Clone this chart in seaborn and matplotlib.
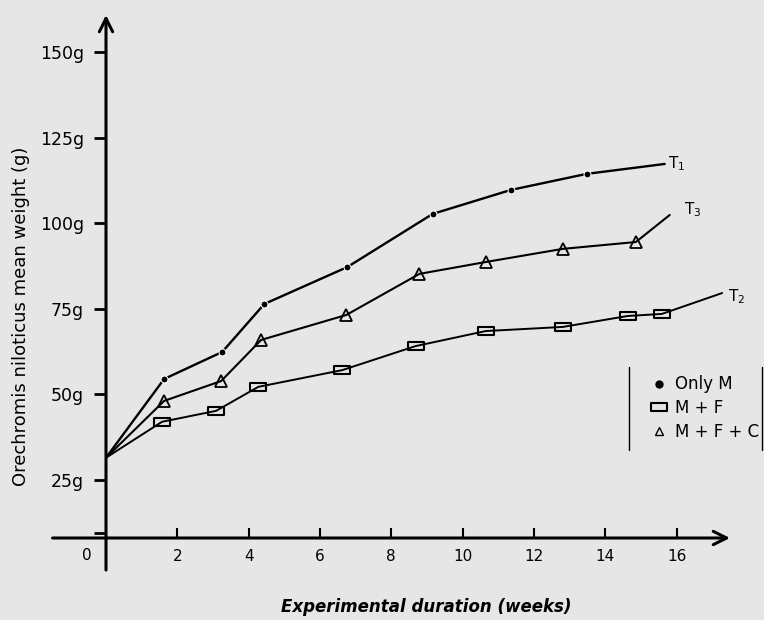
import matplotlib
matplotlib.use("Agg")
import matplotlib.pyplot as plt
import seaborn as sns
import pandas as pd
from matplotlib.lines import Line2D
from matplotlib.path import Path

# Values (weeks, grams)
weeks_only_m = [0, 1.63, 3.26, 4.44, 6.77, 9.16, 11.35, 13.48, 15.67]
weight_only_m = [31.5, 54.5, 62.4, 76.4, 87.2, 102.7, 109.7, 114.4, 117.3]

weeks_mf = [0, 1.57, 3.09, 4.27, 6.63, 8.68, 10.65, 12.81, 14.63, 15.59, 17.28]
weight_mf = [31.5, 42.0, 45.2, 52.2, 57.1, 64.1, 68.5, 69.7, 72.9, 73.5, 79.6]

weeks_mfc = [0, 1.63, 3.23, 4.35, 6.74, 8.79, 10.67, 12.81, 14.86, 15.81]
weight_mfc = [31.5, 48.1, 53.9, 65.9, 73.2, 85.2, 88.7, 92.5, 94.5, 102.4]

y_ticks = [25, 50, 75, 100, 125, 150]
y_tick_labels = ["25g", "50g", "75g", "100g", "125g", "150g"]
x_ticks = [2, 4, 6, 8, 10, 12, 14, 16]

series_names = ["Only M", "M + F", "M + F + C"]
curve_tags = [r"T$_1$", r"T$_2$", r"T$_3$"]

bg = "#e5e6e5"
sns.set_style("white")
plt.rcParams["font.family"] = ["DejaVu Sans"]
plt.rcParams["text.color"] = "black"
plt.rcParams["xtick.color"] = "black"
plt.rcParams["ytick.color"] = "black"

# wide, flat rectangle marker for M + F
rect = Path([(-1, -0.5), (1, -0.5), (1, 0.5), (-1, 0.5), (-1, -0.5)],
            [Path.MOVETO, Path.LINETO, Path.LINETO, Path.LINETO, Path.CLOSEPOLY])

fig = plt.figure(figsize=(7.64, 6.2), dpi=100, facecolor=bg)
ax = fig.add_axes([106 / 764, 82 / 620, 624 / 764, 523 / 620])
ax.set_facecolor(bg)

df_m = pd.DataFrame({"week": weeks_only_m, "weight": weight_only_m})
df_mf = pd.DataFrame({"week": weeks_mf, "weight": weight_mf})
df_mfc = pd.DataFrame({"week": weeks_mfc, "weight": weight_mfc})

sns.lineplot(data=df_m, x="week", y="weight", ax=ax, color="black", lw=1.7,
             marker="o", markersize=5, markevery=list(range(1, len(df_m) - 1)),
             errorbar=None)
sns.lineplot(data=df_mf, x="week", y="weight", ax=ax, color="black", lw=1.4,
             marker=rect, markersize=11, mfc="none", mec="black", mew=1.5,
             markevery=list(range(1, len(df_mf) - 1)), errorbar=None)
sns.lineplot(data=df_mfc, x="week", y="weight", ax=ax, color="black", lw=1.5,
             marker="^", markersize=9, mfc="none", mec="black", mew=1.3,
             markevery=list(range(1, len(df_mfc) - 1)), errorbar=None)

# curve tags at the line ends
ax.text(weeks_only_m[-1] + 0.1, weight_only_m[-1], curve_tags[0], fontsize=11, va="center")
ax.text(weeks_mf[-1] + 0.15, weight_mf[-1] - 1, curve_tags[1], fontsize=11, va="center")
ax.text(weeks_mfc[-1] + 0.4, weight_mfc[-1] + 1.5, curve_tags[2], fontsize=11, va="center")

ax.set_xlim(0, 17.5)
ax.set_ylim(8.06, 160.8)
for s in ax.spines.values():
    s.set_visible(False)

# axes drawn as arrows crossing at the origin
arr = dict(arrowstyle="->", lw=2.2, color="black", mutation_scale=24, shrinkA=0, shrinkB=0)
ax.annotate("", xy=(17.5, 8.06), xytext=(-1.5, 8.06), arrowprops=arr, annotation_clip=False)
ax.annotate("", xy=(0, 160.8), xytext=(0, -1.3), arrowprops=arr, annotation_clip=False)

ax.set_yticks(y_ticks)
ax.set_yticklabels(y_tick_labels)
ax.set_yticks([9.5], minor=True)
ax.tick_params(axis="y", which="both", direction="out", length=9, width=2, pad=7,
               labelsize=12.5, left=True, colors="black")
ax.set_xticks(x_ticks)
ax.tick_params(axis="x", direction="in", length=7, width=1.5, pad=8,
               labelsize=11, bottom=True, colors="black")
ax.set_xlabel("")
ax.set_ylabel("")

ax.annotate("0", xy=(0, 0), xycoords="axes fraction", xytext=(-19, -17),
            textcoords="offset pixels", ha="center", va="center", fontsize=11)

fig.text(426 / 764, 1 - 607 / 620, "Experimental duration (weeks)", ha="center", va="center",
         fontsize=12, fontweight="bold", fontstyle="italic")
fig.text(21 / 764, 1 - 316 / 620, "Orechromis niloticus mean weight (g)", ha="center",
         va="center", rotation=90, fontsize=13)

handles = [
    Line2D([], [], ls="none", marker="o", markersize=5, color="black"),
    Line2D([], [], ls="none", marker=rect, markersize=11, mfc="none", mec="black", mew=1.5),
    Line2D([], [], ls="none", marker="^", markersize=6, mfc="none", mec="black", mew=1),
]
fig.legend(handles, series_names, loc="upper left", bbox_to_anchor=(642 / 764, 1 - 367 / 620),
           frameon=False, handlelength=1, handletextpad=0.5, borderpad=0,
           labelspacing=0.35, fontsize=12)
for xp in (629, 762):
    fig.add_artist(Line2D([xp / 764, xp / 764], [1 - 367 / 620, 1 - 450 / 620],
                          transform=fig.transFigure, color="black", lw=1))

fig.savefig("out.png", dpi=100, facecolor=bg)
